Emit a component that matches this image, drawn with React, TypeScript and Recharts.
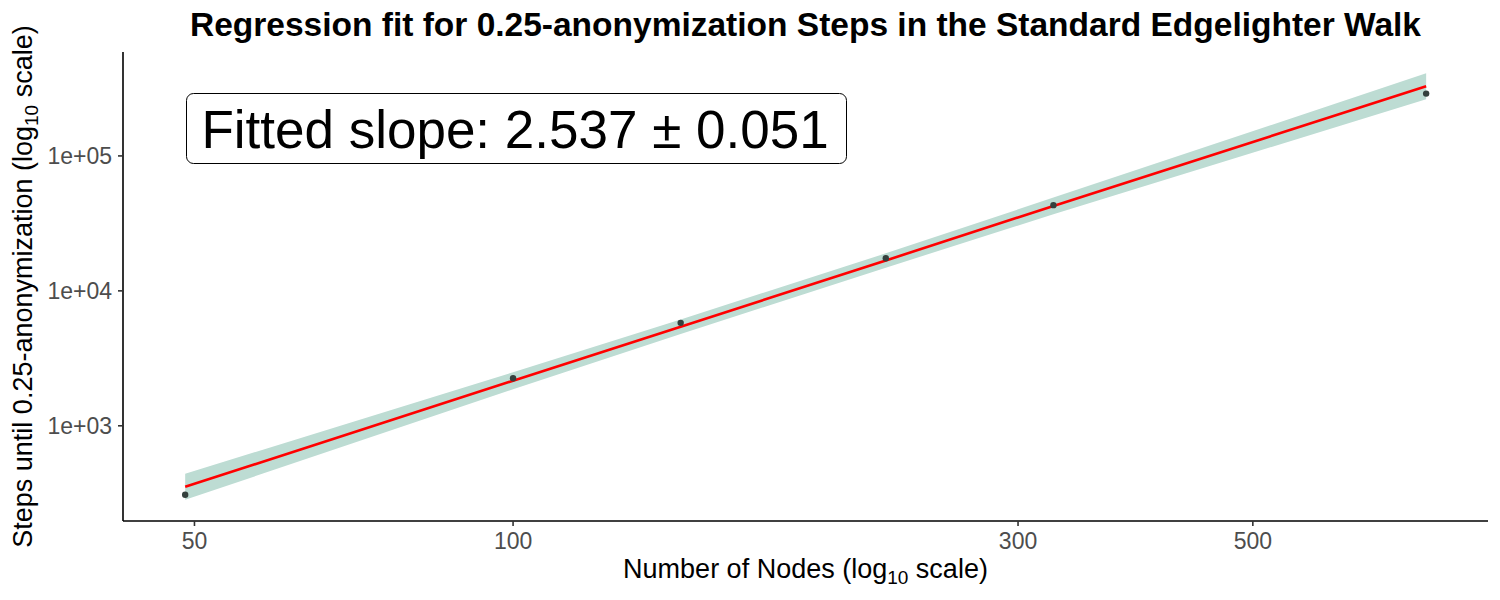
import { Area, ComposedChart, Label, Line, Scatter, XAxis, YAxis } from 'recharts'

// grid sizes (number of nodes) and measured steps until 0.25-anonymization
const NODES = [49, 100, 144, 225, 324, 729]
const STEPS = [308, 2253, 5795, 17460, 43150, 289600]

// fitted regression line and its confidence band
const FIT = [353, 2160, 5420, 16800, 42600, 328000]
const BAND_LOW = [283, 1866, 4786, 14860, 36900, 263000]
const BAND_HIGH = [441, 2495, 6138, 18970, 49100, 409000]

const X_TICKS = [50, 100, 300, 500]
const Y_TICKS = [1000, 10000, 100000]
const X_DOMAIN = [42.8, 834]
const Y_DOMAIN = [197, 589000]

const TITLE = 'Regression fit for 0.25-anonymization Steps in the Standard Edgelighter Walk'
const SLOPE_LABEL = 'Fitted slope: 2.537 ± 0.051'

const FONT = '"Liberation Sans", Arial, sans-serif'
const WIDTH = 1500
const HEIGHT = 600

const data = NODES.map((nodes, i) => ({
  nodes,
  steps: STEPS[i],
  fit: FIT[i],
  band: [BAND_LOW[i], BAND_HIGH[i]],
}))

function formatSci(value: number) {
  const exp = Math.round(Math.log10(value))
  const mant = value / 10 ** exp
  return `${mant}e+${String(exp).padStart(2, '0')}`
}

function XTitle({ viewBox }: any) {
  const { x, y, width } = viewBox
  return (
    <text x={x + width / 2} y={y + 57} textAnchor="middle" fontSize={27} fontFamily={FONT} fill="#000">
      Number of Nodes (log
      <tspan fontSize={19} dy={6}>10</tspan>
      <tspan dy={-6}> scale)</tspan>
    </text>
  )
}

function YTitle({ viewBox }: any) {
  const { y, height } = viewBox
  const cx = 32
  const cy = y + height / 2
  return (
    <text
      x={cx}
      y={cy}
      transform={`rotate(-90, ${cx}, ${cy})`}
      textAnchor="middle"
      fontSize={27}
      fontFamily={FONT}
      fill="#000"
    >
      Steps until 0.25-anonymization (log
      <tspan fontSize={19} dy={6}>10</tspan>
      <tspan dy={-6}> scale)</tspan>
    </text>
  )
}

function Dot(props: any) {
  return <circle cx={props.cx} cy={props.cy} r={3.2} fill="#34403d" />
}

export default function App() {
  const tick = { fill: '#4d4d4d', fontSize: 23, fontFamily: FONT }
  return (
    <div style={{ position: 'absolute', left: 0, top: 0, width: WIDTH, height: HEIGHT, background: '#fff' }}>
      <ComposedChart width={WIDTH} height={HEIGHT} data={data} margin={{ top: 52, right: 12, bottom: 0, left: 0 }}>
        <XAxis
          dataKey="nodes"
          type="number"
          scale="log"
          domain={X_DOMAIN}
          ticks={X_TICKS}
          allowDataOverflow
          height={79}
          tick={tick}
          tickSize={5}
          tickMargin={7}
          axisLine={{ stroke: '#000', strokeWidth: 1.6 }}
          tickLine={{ stroke: '#333', strokeWidth: 1.6 }}
        >
          <Label content={XTitle} />
        </XAxis>
        <YAxis
          type="number"
          scale="log"
          domain={Y_DOMAIN}
          ticks={Y_TICKS}
          allowDataOverflow
          width={123}
          tick={tick}
          tickSize={5}
          tickMargin={6}
          tickFormatter={formatSci}
          axisLine={{ stroke: '#000', strokeWidth: 1.6 }}
          tickLine={{ stroke: '#333', strokeWidth: 1.6 }}
        >
          <Label content={YTitle} />
        </YAxis>
        <Area
          dataKey="band"
          type="linear"
          fill="#bddcd3"
          fillOpacity={1}
          stroke="none"
          isAnimationActive={false}
        />
        <Line dataKey="fit" type="linear" stroke="#ff0000" strokeWidth={2.6} dot={false} isAnimationActive={false} />
        <Scatter dataKey="steps" shape={Dot} isAnimationActive={false} />
      </ComposedChart>
      <svg
        width={WIDTH}
        height={HEIGHT}
        style={{ position: 'absolute', left: 0, top: 0, pointerEvents: 'none' }}
      >
        <text x={805.5} y={36} textAnchor="middle" fontSize={33.5} fontWeight="bold" fontFamily={FONT} fill="#000">
          {TITLE}
        </text>
        <rect x={186.5} y={93.5} width={660} height={70} rx={7} fill="#fff" stroke="#000" strokeWidth={1} />
        <text x={515} y={148} textAnchor="middle" fontSize={53} fontFamily={FONT} fill="#000">
          {SLOPE_LABEL}
        </text>
      </svg>
    </div>
  )
}
